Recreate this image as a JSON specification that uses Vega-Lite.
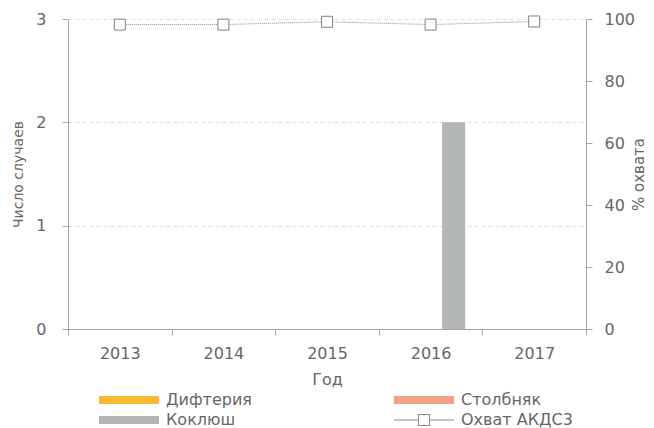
{
  "$schema": "https://vega.github.io/schema/vega-lite/v6.json",
  "width": 518,
  "height": 310,
  "autosize": {"type": "none"},
  "padding": {"left": 68, "top": 19, "right": 68, "bottom": 99},
  "config": {
    "font": "DejaVu Sans",
    "view": {"stroke": null},
    "axis": {
      "labelColor": "#666666",
      "titleColor": "#666666",
      "labelFont": "DejaVu Sans",
      "titleFont": "DejaVu Sans",
      "labelFontSize": 16,
      "titleFontSize": 15,
      "titleFontWeight": "normal",
      "domainColor": "#a6a6a6",
      "tickColor": "#a6a6a6"
    },
    "legend": {
      "labelFont": "DejaVu Sans",
      "labelFontSize": 16,
      "labelColor": "#666666"
    }
  },
  "datasets": {
    "cases": [
      {"year": "2013", "series": "Дифтерия", "cases": 0},
      {"year": "2013", "series": "Столбняк", "cases": 0},
      {"year": "2013", "series": "Коклюш", "cases": 0},
      {"year": "2014", "series": "Дифтерия", "cases": 0},
      {"year": "2014", "series": "Столбняк", "cases": 0},
      {"year": "2014", "series": "Коклюш", "cases": 0},
      {"year": "2015", "series": "Дифтерия", "cases": 0},
      {"year": "2015", "series": "Столбняк", "cases": 0},
      {"year": "2015", "series": "Коклюш", "cases": 0},
      {"year": "2016", "series": "Дифтерия", "cases": 0},
      {"year": "2016", "series": "Столбняк", "cases": 0},
      {"year": "2016", "series": "Коклюш", "cases": 2},
      {"year": "2017", "series": "Дифтерия", "cases": 0},
      {"year": "2017", "series": "Столбняк", "cases": 0},
      {"year": "2017", "series": "Коклюш", "cases": 0}
    ],
    "cov": [
      {"year": "2013", "coverage": 98.2},
      {"year": "2014", "coverage": 98.2},
      {"year": "2015", "coverage": 99.1},
      {"year": "2016", "coverage": 98.2},
      {"year": "2017", "coverage": 99.2}
    ]
  },
  "layer": [
    {
      "data": {"name": "cases"},
      "mark": {"type": "bar"},
      "encoding": {
        "x": {
          "field": "year",
          "type": "ordinal",
          "scale": {"paddingInner": 0, "paddingOuter": 0},
          "axis": {
            "title": "Год",
            "labelAngle": 0,
            "tickBand": "extent",
            "tickSize": 6,
            "labelPadding": 10,
            "titlePadding": 10,
            "titleFontSize": 16,
            "grid": false
          }
        },
        "xOffset": {
          "field": "series",
          "type": "nominal",
          "scale": {"domain": ["Дифтерия", "Столбняк", "Коклюш"], "paddingInner": 0, "paddingOuter": 0.75}
        },
        "y": {
          "field": "cases",
          "type": "quantitative",
          "scale": {"domain": [0, 3]},
          "axis": {
            "title": "Число случаев",
            "titleFontSize": 14,
            "values": [0, 1, 2, 3],
            "format": "d",
            "grid": true,
            "gridColor": "#dedede",
            "gridDash": [4, 3],
            "tickSize": 6,
            "labelPadding": 16,
            "titlePadding": 10
          }
        },
        "color": {
          "field": "series",
          "type": "nominal",
          "scale": {
            "domain": ["Дифтерия", "Столбняк", "Коклюш", "Охват АКДС3"],
            "range": ["#fbb931", "#f5a088", "#b2b6b5", "#8c8c8c"]
          },
          "legend": {
            "title": null,
            "orient": "none",
            "direction": "horizontal",
            "legendX": 28,
            "legendY": 373,
            "columns": 2,
            "columnPadding": 139,
            "rowPadding": 4,
            "padding": 0,
            "symbolSize": 100,
            "labelOffset": 54,
            "labelLimit": 300,
            "encode": {
              "symbols": {
                "update": {
                  "shape": {"signal": "datum.value === 'Охват АКДС3' ? 'M-1,-0.1H3.8V0.1H-1Z M6.2,-0.1H11V0.1H6.2Z M3.8,-1.2H6.2V1.2H3.8Z M4,-1V1H6V-1Z' : 'M-1,-0.8H11V0.8H-1Z'"},
                  "fill": {"signal": "scale('color', datum.value)"},
                  "fillOpacity": {"value": 1},
                  "stroke": {"value": "transparent"},
                  "strokeWidth": {"value": 0},
                  "opacity": {"value": 1}
                }
              }
            }
          }
        }
      }
    },
    {
      "data": {"name": "cov"},
      "encoding": {
        "x": {"field": "year", "type": "ordinal"},
        "y": {
          "field": "coverage",
          "type": "quantitative",
          "scale": {"domain": [0, 100]},
          "axis": {
            "orient": "right",
            "title": "% охвата",
            "titleAngle": 270,
            "values": [0, 20, 40, 60, 80, 100],
            "grid": false,
            "tickSize": 6,
            "labelPadding": 12,
            "titlePadding": 12
          }
        }
      },
      "layer": [
        {
          "mark": {"type": "line", "strokeDash": [1, 1], "strokeWidth": 1},
          "encoding": {"color": {"datum": "Охват АКДС3"}}
        },
        {
          "mark": {"type": "point", "shape": "square", "size": 121, "filled": false, "fill": "white", "fillOpacity": 1, "stroke": "#808080", "strokeWidth": 1, "opacity": 1}
        }
      ]
    }
  ],
  "resolve": {"scale": {"y": "independent"}}
}
